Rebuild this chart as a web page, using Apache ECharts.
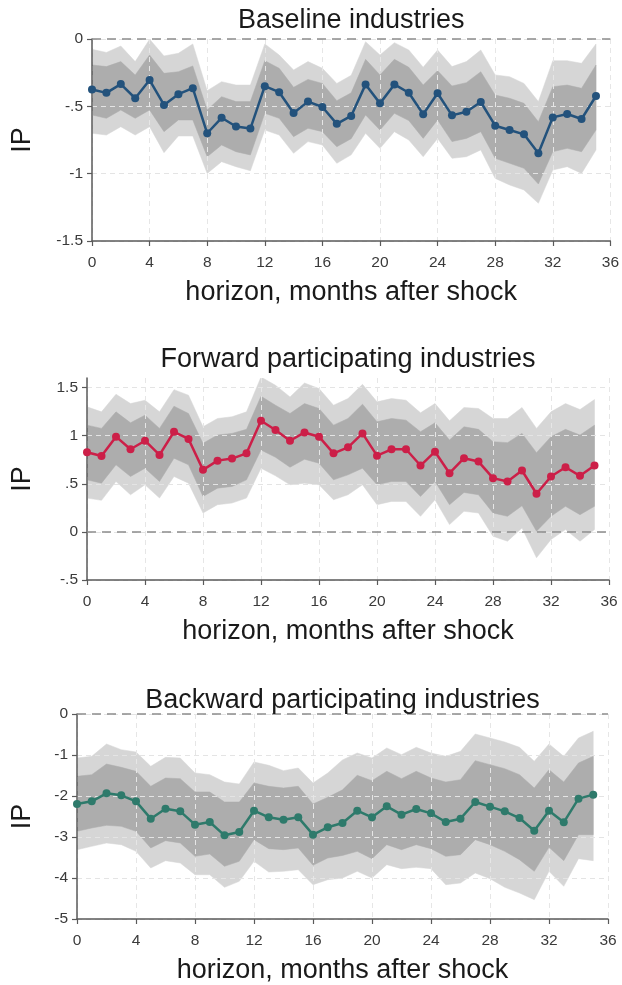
<!DOCTYPE html>
<html>
<head>
    <meta charset="utf-8">
    <title>IP responses</title>
    <script src="https://cdn.jsdelivr.net/npm/echarts@6/dist/echarts.min.js"></script>
    <style>
        html, body {
            margin: 0;
            padding: 0;
            background: #ffffff;
        }

        #chart {
            width: 622px;
            height: 985px;
        }
    </style>
</head>
<body>
<div id="chart"></div>
<script>
    // horizon, months after shock
    var horizons = [0, 1, 2, 3, 4, 5, 6, 7, 8, 9, 10, 11, 12, 13, 14, 15, 16, 17,
        18, 19, 20, 21, 22, 23, 24, 25, 26, 27, 28, 29, 30, 31, 32, 33, 34, 35];
    var xTicks = [0, 4, 8, 12, 16, 20, 24, 28, 32, 36];

    // Baseline industries
    var basePoint = [-0.375, -0.40, -0.335, -0.44, -0.305, -0.49, -0.41, -0.365, -0.70, -0.585, -0.65, -0.665,
        -0.35, -0.395, -0.55, -0.465, -0.505, -0.63, -0.571, -0.337, -0.478, -0.337, -0.399, -0.559,
        -0.403, -0.567, -0.54, -0.468, -0.644, -0.676, -0.708, -0.849, -0.582, -0.557, -0.594, -0.423];
    var baseHi90 = [-0.077, -0.10, -0.052, -0.168, -0.002, -0.126, -0.106, -0.037, -0.384, -0.317, -0.342, -0.342,
        -0.037, -0.119, -0.23, -0.168, -0.218, -0.33, -0.27, -0.02, -0.119, -0.027, -0.082, -0.21,
        -0.082, -0.205, -0.168, -0.082, -0.267, -0.28, -0.33, -0.465, -0.161, -0.161, -0.181, -0.037];
    var baseHi68 = [-0.193, -0.205, -0.168, -0.267, -0.119, -0.255, -0.243, -0.20, -0.527, -0.428, -0.465, -0.465,
        -0.161, -0.218, -0.359, -0.30, -0.33, -0.458, -0.40, -0.151, -0.267, -0.151, -0.21, -0.342,
        -0.235, -0.349, -0.324, -0.243, -0.416, -0.44, -0.478, -0.614, -0.354, -0.342, -0.366, -0.193];
    var baseLo68 = [-0.564, -0.589, -0.527, -0.589, -0.527, -0.688, -0.601, -0.601, -0.874, -0.787, -0.837, -0.861,
        -0.552, -0.589, -0.725, -0.663, -0.688, -0.80, -0.74, -0.564, -0.676, -0.552, -0.606, -0.738,
        -0.601, -0.762, -0.738, -0.688, -0.886, -0.923, -0.96, -1.077, -0.837, -0.812, -0.837, -0.676];
    var baseLo90 = [-0.70, -0.713, -0.651, -0.713, -0.651, -0.844, -0.72, -0.72, -0.998, -0.911, -0.948, -0.978,
        -0.676, -0.713, -0.849, -0.762, -0.787, -0.923, -0.86, -0.70, -0.812, -0.688, -0.75, -0.874,
        -0.738, -0.886, -0.874, -0.824, -1.035, -1.084, -1.121, -1.22, -0.973, -0.948, -0.998, -0.824];
    var baseTicks = [-1.5, -1, -0.5, 0];

    // Forward participating industries
    var fwdPoint = [0.828, 0.79, 0.99, 0.859, 0.948, 0.80, 1.041, 0.966, 0.645, 0.741, 0.762, 0.817,
        1.155, 1.059, 0.948, 1.034, 0.99, 0.817, 0.879, 1.024, 0.793, 0.859, 0.859, 0.69,
        0.834, 0.61, 0.766, 0.731, 0.559, 0.524, 0.638, 0.397, 0.576, 0.672, 0.583, 0.69];
    var fwdHi90 = [1.30, 1.248, 1.431, 1.334, 1.369, 1.248, 1.479, 1.421, 1.093, 1.179, 1.197, 1.248,
        1.61, 1.524, 1.403, 1.548, 1.49, 1.317, 1.386, 1.534, 1.352, 1.386, 1.369, 1.238,
        1.334, 1.155, 1.293, 1.283, 1.179, 1.179, 1.293, 1.076, 1.248, 1.334, 1.272, 1.376];
    var fwdHi68 = [1.11, 1.076, 1.248, 1.134, 1.214, 1.076, 1.307, 1.231, 0.921, 1.007, 1.024, 1.066,
        1.41, 1.317, 1.231, 1.334, 1.283, 1.11, 1.179, 1.328, 1.145, 1.179, 1.162, 1.041,
        1.134, 0.955, 1.093, 1.066, 0.938, 0.928, 1.024, 0.824, 0.99, 1.066, 1.007, 1.11];
    var fwdLo68 = [0.541, 0.507, 0.697, 0.576, 0.662, 0.524, 0.766, 0.697, 0.369, 0.455, 0.472, 0.541,
        0.852, 0.776, 0.672, 0.755, 0.714, 0.541, 0.593, 0.662, 0.49, 0.524, 0.524, 0.369,
        0.524, 0.283, 0.41, 0.386, 0.197, 0.162, 0.272, 0.007, 0.162, 0.266, 0.179, 0.266];
    var fwdLo90 = [0.352, 0.328, 0.524, 0.386, 0.49, 0.352, 0.576, 0.507, 0.197, 0.283, 0.30, 0.352,
        0.662, 0.583, 0.49, 0.507, 0.49, 0.334, 0.386, 0.49, 0.283, 0.317, 0.317, 0.162,
        0.334, 0.076, 0.214, 0.197, -0.045, -0.097, 0.041, -0.269, -0.079, 0.024, -0.097, 0.024];
    var fwdTicks = [-0.5, 0, 0.5, 1, 1.5];

    // Backward participating industries
    var bwdPoint = [-2.195, -2.13, -1.935, -1.984, -2.13, -2.553, -2.309, -2.374, -2.699, -2.634, -2.959, -2.878,
        -2.358, -2.52, -2.577, -2.52, -2.943, -2.764, -2.659, -2.358, -2.52, -2.252, -2.455, -2.317,
        -2.423, -2.634, -2.553, -2.146, -2.26, -2.374, -2.537, -2.846, -2.358, -2.642, -2.065, -1.967];
    var bwdHi90 = [-1.073, -1.033, -0.732, -0.87, -0.927, -1.276, -1.057, -1.073, -1.439, -1.48, -1.659, -1.707,
        -1.171, -1.252, -1.382, -1.317, -1.683, -1.44, -1.12, -0.951, -1.073, -0.829, -0.992, -0.813,
        -0.951, -1.033, -0.911, -0.488, -0.585, -0.683, -0.813, -1.154, -0.732, -1.033, -0.585, -0.423];
    var bwdHi68 = [-1.52, -1.48, -1.22, -1.30, -1.398, -1.764, -1.561, -1.577, -1.902, -1.902, -2.146, -2.146,
        -1.683, -1.764, -1.805, -1.764, -2.195, -2.033, -1.85, -1.496, -1.626, -1.398, -1.577, -1.398,
        -1.561, -1.659, -1.602, -1.138, -1.236, -1.333, -1.48, -1.805, -1.358, -1.659, -1.195, -1.033];
    var bwdLo68 = [-2.862, -2.78, -2.715, -2.74, -2.862, -3.268, -3.089, -3.146, -3.472, -3.415, -3.715, -3.593,
        -3.065, -3.285, -3.309, -3.268, -3.691, -3.512, -3.45, -3.35, -3.528, -3.187, -3.309, -3.187,
        -3.285, -3.472, -3.431, -3.065, -3.187, -3.35, -3.553, -3.837, -3.252, -3.577, -2.943, -2.943];
    var bwdLo90 = [-3.309, -3.228, -3.146, -3.187, -3.35, -3.756, -3.577, -3.634, -3.919, -3.919, -4.228, -4.081,
        -3.593, -3.854, -3.837, -3.797, -4.163, -4.041, -4.0, -3.837, -4.0, -3.675, -3.772, -3.74,
        -3.772, -4.163, -4.122, -3.878, -4.016, -4.228, -4.366, -4.528, -3.837, -4.203, -3.528, -3.577];
    var bwdTicks = [-5, -4, -3, -2, -1, 0];

    var FONT = '"Liberation Sans", Arial, sans-serif';

    var panels = [
        {
            title: 'Baseline industries', color: '#23527c',
            point: basePoint, hi90: baseHi90, hi68: baseHi68, lo68: baseLo68, lo90: baseLo90,
            ticks: baseTicks, min: -1.5, max: 0, interval: 0.5,
            grid: {left: 92, top: 39, width: 518.5, height: 202},
            titleTop: 7
        },
        {
            title: 'Forward participating industries', color: '#cc1f48',
            point: fwdPoint, hi90: fwdHi90, hi68: fwdHi68, lo68: fwdLo68, lo90: fwdLo90,
            ticks: fwdTicks, min: -0.5, max: 1.6, interval: 0.5,
            grid: {left: 87, top: 378, width: 522, height: 202},
            titleTop: 346
        },
        {
            title: 'Backward participating industries', color: '#2e7a6b',
            point: bwdPoint, hi90: bwdHi90, hi68: bwdHi68, lo68: bwdLo68, lo90: bwdLo90,
            ticks: bwdTicks, min: -5, max: 0, interval: 1,
            grid: {left: 77, top: 714, width: 531, height: 205},
            titleTop: 687
        }
    ];

    function pairs(vals) {
        return horizons.map(function (h, i) {
            return [h, vals[i]];
        });
    }

    // one filled polygon between the lower and the upper edge of a band
    function bandSeries(k, lo, hi, color) {
        return {
            type: 'custom', xAxisIndex: k, yAxisIndex: k, z: 1, silent: true,
            clip: true,
            data: horizons.map(function (h, i) {
                return [h, lo[i], hi[i]];
            }),
            encode: {x: 0, y: [1, 2]},
            renderItem: function (params, api) {
                if (params.dataIndex !== 0) {
                    return null;
                }
                var pts = [];
                var i;
                for (i = 0; i < horizons.length; i++) {
                    pts.push(api.coord([horizons[i], hi[i]]));
                }
                for (i = horizons.length - 1; i >= 0; i--) {
                    pts.push(api.coord([horizons[i], lo[i]]));
                }
                return {
                    type: 'polygon',
                    shape: {points: pts},
                    style: {fill: color, stroke: color, lineWidth: 0.5}
                };
            }
        };
    }

    // Stata style labels: -.5 instead of -0.5
    function stataLabel(v) {
        return String(v).replace('0.', '.');
    }

    var option = {
        backgroundColor: '#ffffff',
        animation: false,
        textStyle: {fontFamily: FONT},
        title: [],
        grid: [],
        xAxis: [],
        yAxis: [],
        series: []
    };

    panels.forEach(function (p, k) {
        var g = p.grid;
        option.title.push({
            text: p.title,
            left: g.left + g.width / 2,
            top: p.titleTop,
            textAlign: 'center',
            padding: 0,
            textStyle: {fontFamily: FONT, fontSize: 27, fontWeight: 'normal', color: '#1a1a1a'}
        });
        option.grid.push({left: g.left, top: g.top, width: g.width, height: g.height});

        option.xAxis.push({
            type: 'value', gridIndex: k, min: 0, max: 36, interval: 4,
            name: 'horizon, months after shock',
            nameLocation: 'middle', nameGap: 38,
            nameTextStyle: {fontFamily: FONT, fontSize: 27, color: '#1a1a1a'},
            z: 3,
            axisLine: {onZero: false, lineStyle: {color: '#5a5a5a', width: 1.5}},
            axisTick: {length: 5, lineStyle: {color: '#5a5a5a', width: 1.2}, customValues: xTicks},
            axisLabel: {fontFamily: FONT, fontSize: 15.5, color: '#3a3a3a', margin: 14, customValues: xTicks},
            splitLine: {show: true, lineStyle: {color: '#e6e6e6', width: 1, type: [5, 4]}}
        });

        option.yAxis.push({
            type: 'value', gridIndex: k, min: p.min, max: p.max, interval: p.interval,
            name: 'IP',
            nameLocation: 'middle', nameRotate: 90, nameGap: g.left - 36,
            nameTextStyle: {fontFamily: FONT, fontSize: 27, color: '#1a1a1a'},
            z: 3,
            axisLine: {show: true, onZero: false, lineStyle: {color: '#5a5a5a', width: 1.5}},
            axisTick: {show: true, length: 5, lineStyle: {color: '#5a5a5a', width: 1.2}, customValues: p.ticks},
            axisLabel: {fontFamily: FONT, fontSize: 15.5, color: '#3a3a3a', margin: 9,
                customValues: p.ticks, formatter: stataLabel},
            splitLine: {show: true, lineStyle: {color: '#e4e4e4', width: 1, type: [5, 4]}}
        });

        // outer (light) band, then inner (dark) band
        option.series.push(bandSeries(k, p.lo90, p.hi90, '#d6d6d6'));
        option.series.push(bandSeries(k, p.lo68, p.hi68, '#adadad'));

        // point estimates
        option.series.push({
            type: 'line', xAxisIndex: k, yAxisIndex: k, z: 5,
            data: pairs(p.point),
            symbol: 'circle', symbolSize: 8,
            itemStyle: {color: p.color},
            lineStyle: {color: p.color, width: 2.5},
            markLine: {
                silent: true, symbol: ['none', 'none'],
                label: {show: false},
                lineStyle: {color: '#8c8c8c', width: 1.5, type: [9, 6]},
                data: [{yAxis: 0}]
            }
        });
    });

    var chart = echarts.init(document.getElementById('chart'));
    chart.setOption(option);
</script>
</body>
</html>
